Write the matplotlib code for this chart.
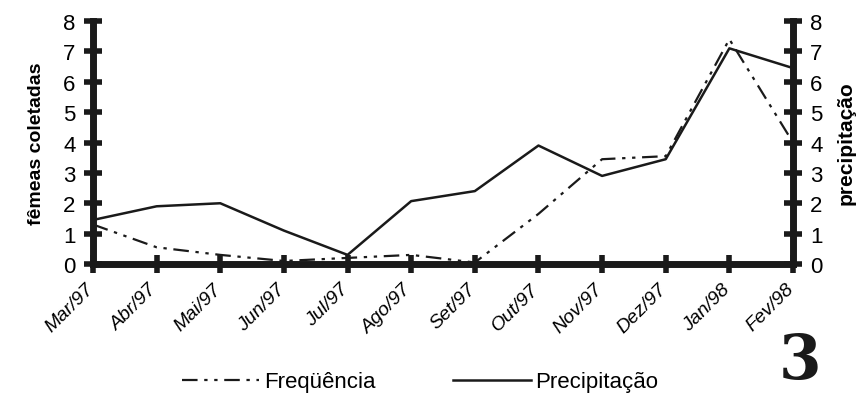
import numpy as np
import matplotlib
matplotlib.use('Agg')
from matplotlib import pyplot as plt
from matplotlib.lines import Line2D
import matplotlib.transforms as mtransforms

meses = ['Mar/97', 'Abr/97', 'Mai/97', 'Jun/97', 'Jul/97', 'Ago/97',
         'Set/97', 'Out/97', 'Nov/97', 'Dez/97', 'Jan/98', 'Fev/98']
frequencia = [1.3, 0.55, 0.3, 0.1, 0.2, 0.3, 0.05, 1.65, 3.45, 3.55, 7.4, 4.0]
precipitacao = [1.45, 1.9, 2.0, 1.1, 0.3, 2.07, 2.4, 3.9, 2.9, 3.45, 7.1, 6.45]
yticks = [0, 1, 2, 3, 4, 5, 6, 7, 8]

plt.rcParams['font.family'] = ['Liberation Sans', 'DejaVu Sans']
dashdotdot = (0, (7, 3, 1.5, 3, 1.5, 3))

fig = plt.figure(figsize=(8.59, 4.02), dpi=100)
ax = fig.add_axes([93/859, 1-265/402, 700/859, 243/402])
ax2 = ax.twinx()

x = np.arange(len(meses))
ax.plot(x, frequencia, color='#1a1a1a', lw=1.6, linestyle=dashdotdot, zorder=3)
ax2.plot(x, precipitacao, color='#1a1a1a', lw=1.8, zorder=3)

for a in (ax, ax2):
    a.set_xlim(0, 11)
    a.set_ylim(0, 8)
    a.set_yticks(yticks)
    for s in a.spines.values():
        s.set_linewidth(5)
        s.set_color('#1a1a1a')
    a.spines['top'].set_visible(False)
    a.tick_params(direction='inout', length=13, width=4, color='#1a1a1a',
                  labelsize=16, pad=6)
ax.spines['right'].set_visible(False)
ax2.spines['left'].set_visible(False)
ax2.spines['bottom'].set_visible(False)

ax.set_xticks(x)
ax.set_xticklabels(meses, rotation=45, ha='right', rotation_mode='anchor',
                   fontstyle='italic', fontsize=14)
ax.tick_params(axis='x', pad=5)
# labels sit a little left of their ticks in the original
shift = mtransforms.ScaledTranslation(-8/100, 0, fig.dpi_scale_trans)
for lbl in ax.get_xticklabels():
    lbl.set_transform(lbl.get_transform() + shift)

ax.set_ylabel('fêmeas coletadas', fontsize=14, fontweight='bold', labelpad=13)
ax2.set_ylabel('precipitação', fontsize=15, fontweight='bold', labelpad=10)

handles = [Line2D([], [], color='#1a1a1a', lw=1.6, linestyle=dashdotdot),
           Line2D([], [], color='#1a1a1a', lw=1.8)]
fig.legend(handles, ['Freqüência', 'Precipitação'], loc='center',
           bbox_to_anchor=(420/859, 1-383/402), ncol=2, frameon=False,
           fontsize=16, handlelength=3.5, handletextpad=0.2, columnspacing=3.5)

fig.text(800/859, 1-362/402, '3', fontsize=44, fontweight='bold',
         family='DejaVu Serif', ha='center', va='center', color='#1a1a1a')

fig.savefig('out.png', dpi=100)
